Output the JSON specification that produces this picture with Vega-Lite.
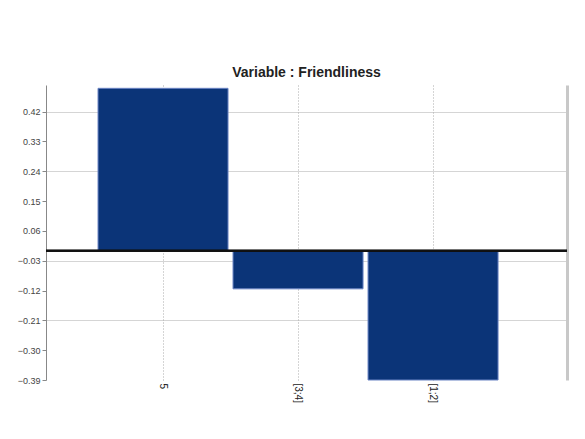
{
  "$schema": "https://vega.github.io/schema/vega-lite/v6.json",
  "width": 521,
  "height": 295,
  "autosize": {"type": "none"},
  "padding": {"left": 46, "top": 85, "right": 18, "bottom": 59},
  "background": "#ffffff",
  "config": {"view": {"stroke": null}, "font": "Liberation Sans"},
  "title": {"text": "Variable : Friendliness", "fontSize": 14, "fontWeight": "bold", "color": "#222222", "offset": 5, "anchor": "middle"},
  "data": {"values": [
    {"category": "5", "value": 0.49},
    {"category": "[3;4]", "value": -0.115},
    {"category": "[1;2]", "value": -0.39}
  ]},
  "resolve": {"axis": {"y": "independent"}},
  "layer": [
    {
      "mark": {"type": "bar", "color": "#0b3478", "stroke": "#6a84c4", "strokeWidth": 1},
      "encoding": {
        "x": {
          "field": "category", "type": "nominal", "sort": null,
          "scale": {"paddingInner": 0.037, "paddingOuter": 0.448, "align": 0.43},
          "axis": {"title": null, "labelAngle": 90, "labelFontSize": 10, "labelColor": "#222222", "labelPadding": 3, "ticks": false, "domain": false, "grid": true, "gridDash": [1, 2], "gridColor": "#aaaaaa", "bandPosition": 0.5}
        },
        "y": {
          "field": "value", "type": "quantitative",
          "scale": {"domain": [-0.39, 0.5], "nice": false, "zero": false},
          "axis": {"title": null, "values": [0.42, 0.33, 0.24, 0.15, 0.06, -0.03, -0.12, -0.21, -0.3, -0.39], "format": ".2f", "labelFontSize": 9, "labelColor": "#444444", "tickColor": "#888888", "tickSize": 4, "domainColor": "#888888", "grid": true, "gridColor": "#aaaaaa", "gridDash": [1, 1],
            "gridOpacity": {"condition": {"test": "indexof([0.42, 0.24, -0.03, -0.21], datum.value) >= 0", "value": 1}, "value": 0}}
        }
      }
    },
    {
      "mark": {"type": "rule", "color": "#111111", "strokeWidth": 2},
      "encoding": {
        "y": {"datum": 0, "type": "quantitative", "axis": {"orient": "right", "labels": false, "ticks": false, "grid": false, "title": null, "domainColor": "#c8c8c8", "domainWidth": 3}}
      }
    }
  ]
}
